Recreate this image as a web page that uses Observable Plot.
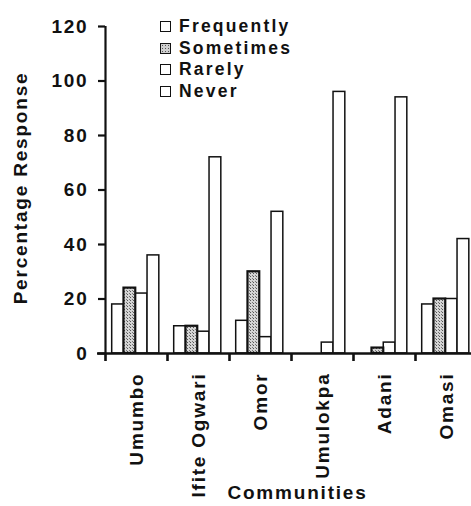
<!DOCTYPE html>
<html>
<head>
<meta charset="utf-8">
<script src="https://cdn.jsdelivr.net/npm/d3@7"></script>
<script src="https://cdn.jsdelivr.net/npm/@observablehq/plot@0.6"></script>
<style>
  html, body { margin: 0; padding: 0; background: white; overflow: hidden; }
  #wrap { position: relative; width: 471px; height: 506px; overflow: hidden; }
  #legend { position: absolute; left: 160px; top: 16px; font-family: 'Liberation Sans', Arial, sans-serif;
            font-weight: bold; font-size: 17.5px; letter-spacing: 2.2px; color: #111; }
  .row { position: relative; height: 21.7px; line-height: 21.7px; white-space: nowrap; }
  .box { position: absolute; left: 0; top: 5px; width: 9px; height: 9px; border: 1.4px solid #111; background: white; }
  .box.stip { background-color: #cfcfcf; background-image: radial-gradient(#555 0.6px, transparent 0.7px); background-size: 3px 3px; border-width: 1.8px; }
  .lab { position: absolute; left: 19px; top: 0; }
</style>
</head>
<body>
<div id="wrap"><div id="legend"></div></div>
<script>
const communities = ["Umumbo", "Ifite Ogwari", "Omor", "Umulokpa", "Adani", "Omasi"];
const series = ["Frequently", "Sometimes", "Rarely", "Never"];
const frequently = [18, 10, 12, 0, 0, 18];
const sometimes = [24, 10, 30, 0, 2, 20];
const rarely = [22, 8, 6, 4, 4, 20];
const never = [36, 72, 52, 96, 94, 42];
const yTicks = [0, 20, 40, 60, 80, 100, 120];

const valuesBySeries = [frequently, sometimes, rarely, never];
const rows = communities.flatMap((c, i) =>
  valuesBySeries.map((arr, j) => ({community: c, i, series: series[j], j, value: arr[i]})));

const PAD = 0.108, BW = 0.19;
const bx1 = d => d.i + PAD + d.j * BW;
const bx2 = d => d.i + PAD + (d.j + 1) * BW;

const bold = {fontSize: 19, fontWeight: "bold"};

const svg = Plot.plot({
  width: 477, height: 506,
  marginLeft: 105, marginRight: 0, marginTop: 26, marginBottom: 153,
  style: "font-family: 'Liberation Sans', Arial, sans-serif; letter-spacing: 1.8px; max-width: none; overflow: visible; background: white; color: #111;",
  x: {domain: [0, communities.length]},
  y: {domain: [0, 120]},
  marks: [
    Plot.rect(rows.filter(d => d.j !== 1), {x1: bx1, x2: bx2, y1: 0, y2: "value", fill: "white", stroke: "#111", strokeWidth: 1.5}),
    Plot.rect(rows.filter(d => d.j === 1), {x1: bx1, x2: bx2, y1: 0, y2: "value", fill: "url(#stipple)", stroke: "#111", strokeWidth: 2.2}),
    Plot.ruleX([0], {y1: 0, y2: 120, stroke: "#111", strokeWidth: 2.2}),
    Plot.ruleY([0], {insetLeft: -8, stroke: "#111", strokeWidth: 2.6}),
    Plot.axisY({ticks: yTicks, tickSize: 7, tickPadding: 10, strokeWidth: 2.2, label: null, ...bold}),
    Plot.axisX({ticks: d3.range(communities.length + 1), tickSize: 8, tickFormat: () => "", strokeWidth: 2.6, label: null}),
    Plot.axisX({ticks: communities.map((_, i) => i + 0.5), tickSize: 0, tickRotate: -90, tickPadding: 19,
                tickFormat: v => communities[Math.floor(v)], label: null, ...bold}),
    Plot.text(["Percentage Response"], {frameAnchor: "left", textAnchor: "middle", rotate: -90, dx: -85, dy: -2, ...bold}),
    Plot.text(["Communities"], {frameAnchor: "bottom", dy: 145, dx: 6, ...bold})
  ]
});

d3.select(svg).insert("defs", ":first-child").html(
  `<pattern id="stipple" width="3" height="3" patternUnits="userSpaceOnUse">
     <rect width="3" height="3" fill="#d4d4d4"></rect>
     <rect x="1" y="0" width="1" height="1" fill="#555"></rect>
     <rect x="0" y="2" width="1" height="1" fill="#777"></rect>
   </pattern>`);

const wrap = document.getElementById("wrap");
wrap.insertBefore(svg, wrap.firstChild);

const legend = d3.select("#legend");
series.forEach((s, j) => {
  const r = legend.append("div").attr("class", "row");
  r.append("div").attr("class", j === 1 ? "box stip" : "box");
  r.append("div").attr("class", "lab").text(s);
});
</script>
</body>
</html>
